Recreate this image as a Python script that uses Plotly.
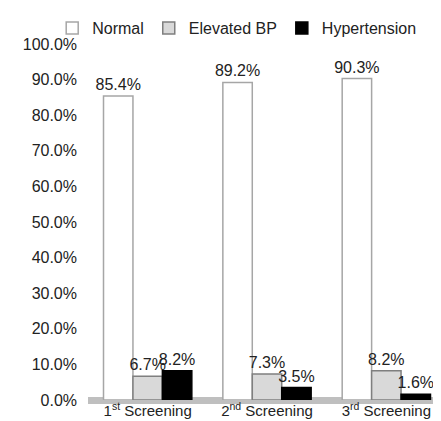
import plotly.graph_objects as go

categories = ["1<sup>st</sup> Screening", "2<sup>nd</sup> Screening", "3<sup>rd</sup> Screening"]
normal = [85.4, 89.2, 90.3]
elevated = [6.7, 7.3, 8.2]
hypertension = [8.2, 3.5, 1.6]
yticks = [0, 10, 20, 30, 40, 50, 60, 70, 80, 90, 100]

font = "Liberation Sans, Arial, Helvetica, sans-serif"
fs = 16

fig = go.Figure()
series = [
    ("Normal", normal, "#ffffff", "#a6a6a6"),
    ("Elevated BP", elevated, "#d9d9d9", "#7f7f7f"),
    ("Hypertension", hypertension, "#000000", "#000000"),
]
for name, vals, fill, line in series:
    fig.add_trace(go.Bar(
        name=name, x=categories, y=vals,
        marker=dict(color=fill, line=dict(color=line, width=1.5)),
        text=[f"{v:.1f}%" for v in vals], textposition="outside",
        constraintext="none",
        textfont=dict(family=font, size=fs, color="#222222"),
        cliponaxis=False,
    ))

fig.update_layout(
    width=441, height=421,
    margin=dict(l=80, r=3, t=32, b=29),
    paper_bgcolor="white", plot_bgcolor="white",
    barmode="group", bargap=0.26, bargroupgap=0.0,
    font=dict(family=font, size=fs, color="#222222"),
    showlegend=True,
    legend=dict(orientation="h", x=-0.1, xanchor="left", y=1.045, yanchor="middle",
                font=dict(family=font, size=fs, color="#222222"),
                itemwidth=30, tracegroupgap=0, bgcolor="rgba(0,0,0,0)"),
    xaxis=dict(showgrid=False, zeroline=False, showline=False, ticks="", ticklen=0,
               automargin=False,
               tickfont=dict(family=font, size=15, color="#222222")),
    yaxis=dict(range=[0, 100], tickvals=yticks, ticktext=[f"{v:.1f}%" for v in yticks],
               showgrid=False, zeroline=True, zerolinecolor="#bfbfbf", zerolinewidth=7,
               showline=False, ticks="",
               tickfont=dict(family=font, size=fs, color="#222222"), ticklabelstandoff=10),
)

fig.write_html("out.html")
